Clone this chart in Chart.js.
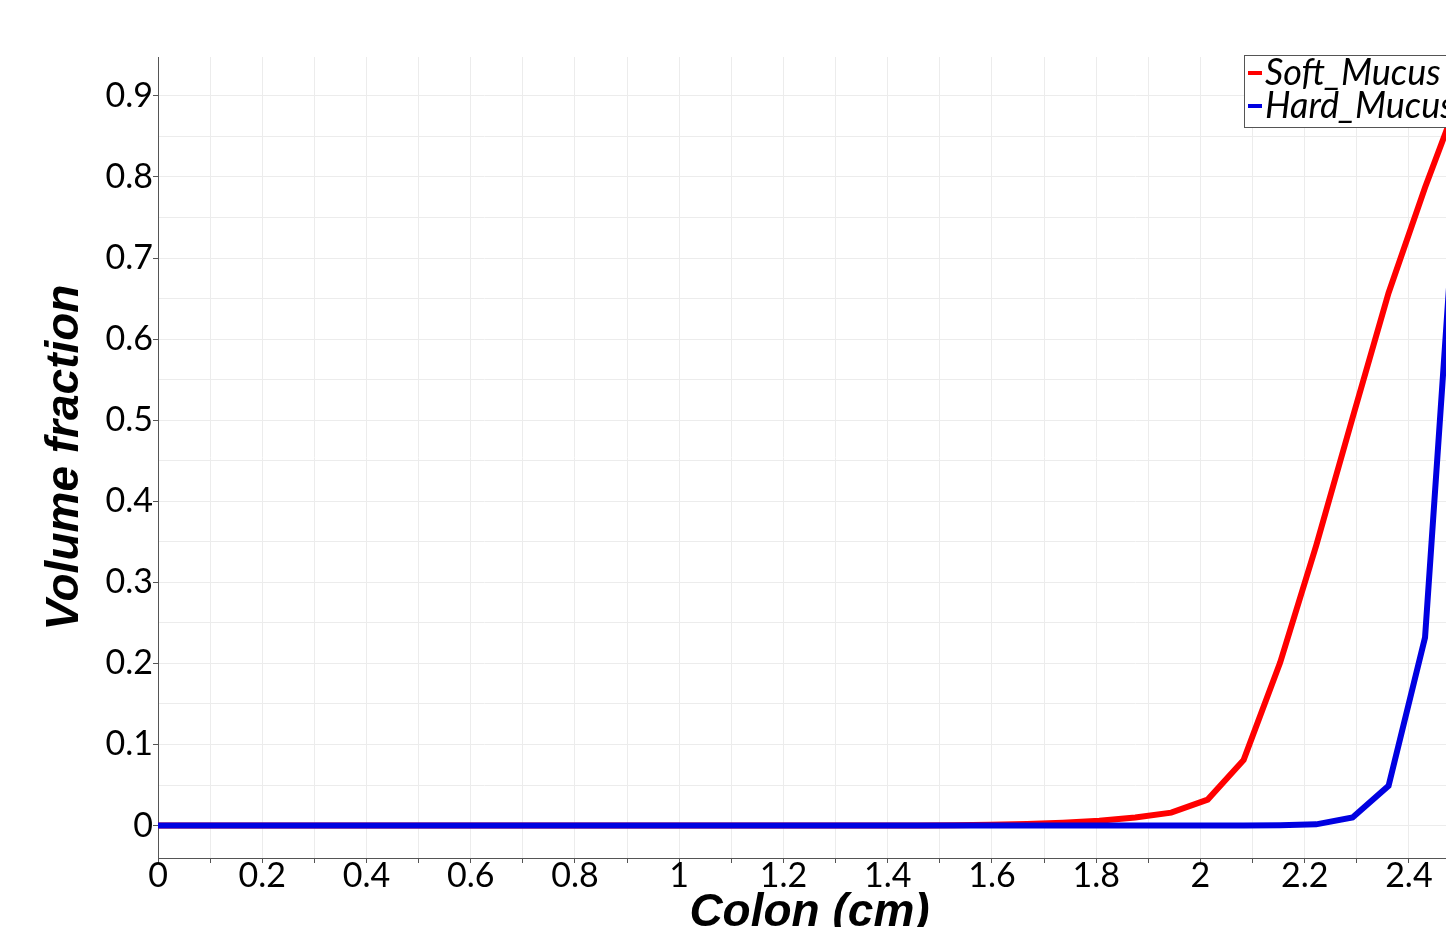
<!DOCTYPE html>
<html>
<head>
<meta charset="utf-8">
<script src="https://cdn.jsdelivr.net/npm/chart.js@4.4.0/dist/chart.umd.min.js"></script>
<style>
html, body { margin: 0; padding: 0; overflow: hidden; background: #fff; }
#wrap { position: absolute; left: 0; top: 0; width: 1480px; height: 960px; }
</style>
</head>
<body>
<div id="wrap"><canvas id="volumeChart" width="1480" height="960"></canvas></div>
<script>
// positions along the colon (cm)
var colonX = [0, 0.069, 0.139, 0.208, 0.278, 0.347, 0.417, 0.486, 0.556, 0.625,
              0.694, 0.764, 0.833, 0.903, 0.972, 1.042, 1.111, 1.181, 1.25, 1.319,
              1.389, 1.458, 1.528, 1.597, 1.667, 1.736, 1.806, 1.875, 1.944, 2.014,
              2.083, 2.153, 2.222, 2.292, 2.361, 2.431, 2.5];
var softMucus = [0, 0, 0, 0, 0, 0, 0, 0, 0, 0,
                 0, 0, 0, 0, 0, 0, 0, 0, 0, 0,
                 0, 0.0002, 0.0005, 0.001, 0.002, 0.0035, 0.006, 0.010, 0.016, 0.032,
                 0.081, 0.201, 0.345, 0.503, 0.657, 0.787, 0.905];
var hardMucus = [0, 0, 0, 0, 0, 0, 0, 0, 0, 0,
                 0, 0, 0, 0, 0, 0, 0, 0, 0, 0,
                 0, 0, 0, 0, 0, 0, 0, 0, 0, 0,
                 0, 0.0003, 0.0015, 0.010, 0.049, 0.232, 0.88];
var seriesNames = ['Soft_Mucus', 'Hard_Mucus'];
var xTickLabels = [0, 0.2, 0.4, 0.6, 0.8, 1, 1.2, 1.4, 1.6, 1.8, 2, 2.2, 2.4];
var yTickLabels = [0, 0.1, 0.2, 0.3, 0.4, 0.5, 0.6, 0.7, 0.8, 0.9];

function toPoints(ys) {
    return colonX.map(function(x, i) { return {x: x, y: ys[i]}; });
}
function isIn(list, v) {
    for (var i = 0; i < list.length; i++) {
        if (Math.abs(list[i] - v) < 1e-6) return true;
    }
    return false;
}
function pickLabel(list) {
    return function(v) { return isIn(list, v) ? String(Math.round(v * 10) / 10) : ''; };
}

// legend drawn in a box at the top right corner of the plot
var boxedLegend = {
    id: 'boxedLegend',
    afterDraw: function(chart) {
        var ctx = chart.ctx, area = chart.chartArea;
        var sets = chart.data.datasets;
        ctx.save();
        ctx.font = 'italic 400 36px Lato, "Liberation Sans", sans-serif';
        var textW = 0;
        sets.forEach(function(ds) { textW = Math.max(textW, ctx.measureText(ds.label).width); });
        var rowH = 33;
        var w = 4 + 14 + 3 + textW + 6, h = sets.length * rowH + 6;
        var left = Math.round(area.right - w), top = Math.round(area.top - 2);
        ctx.fillStyle = '#fff';
        ctx.fillRect(left, top, w, h);
        ctx.strokeStyle = '#555';
        ctx.lineWidth = 1;
        ctx.strokeRect(left + 0.5, top + 0.5, w, h);
        sets.forEach(function(ds, i) {
            var cy = top + 18 + i * rowH;
            ctx.fillStyle = ds.borderColor;
            ctx.fillRect(left + 4, cy - 2, 14, 4);
            ctx.fillStyle = '#000';
            ctx.textBaseline = 'middle';
            ctx.fillText(ds.label, left + 21, cy);
        });
        ctx.restore();
    }
};

var tickFont = {family: 'Lato, "Liberation Sans", sans-serif', size: 34, weight: '400'};
var titleFont = {family: '"Liberation Sans", Arial, sans-serif', size: 46, weight: 'bold', style: 'italic'};

var ctx = document.getElementById('volumeChart').getContext('2d');
var volumeChart = new Chart(ctx, {
    type: 'line',
    data: {
        datasets: [{
            label: seriesNames[0],
            data: toPoints(softMucus),
            borderColor: 'rgb(255, 0, 0)',
            borderWidth: 6,
            order: 1
        }, {
            label: seriesNames[1],
            data: toPoints(hardMucus),
            borderColor: 'rgb(0, 0, 225)',
            borderWidth: 6,
            order: 0
        }]
    },
    options: {
        responsive: false,
        animation: false,
        layout: {padding: {left: 0, top: 57, right: 19, bottom: 0}},
        elements: {
            point: {radius: 0},
            line: {tension: 0, borderCapStyle: 'butt', borderJoinStyle: 'miter'}
        },
        plugins: {
            legend: {display: false},
            tooltip: {enabled: false}
        },
        scales: {
            x: {
                type: 'linear',
                min: 0,
                max: 2.5,
                ticks: {
                    stepSize: 0.1,
                    autoSkip: false,
                    maxRotation: 0,
                    padding: -7,
                    color: '#000',
                    font: tickFont,
                    callback: pickLabel(xTickLabels)
                },
                grid: {color: '#ececec', lineWidth: 1, tickLength: 5, tickColor: '#555'},
                border: {color: '#555', width: 1},
                title: {display: true, text: 'Colon (cm)', color: '#000', font: titleFont, padding: {top: 0, bottom: 19}},
                afterFit: function(scale) { scale.height = 102; }
            },
            y: {
                type: 'linear',
                min: -0.04,
                max: 0.948,
                ticks: {
                    stepSize: 0.05,
                    includeBounds: false,
                    padding: 0,
                    color: '#000',
                    font: tickFont,
                    callback: pickLabel(yTickLabels)
                },
                grid: {
                    color: '#ececec',
                    lineWidth: 1,
                    tickLength: 5,
                    tickColor: function(c) { return c.tick && isIn(yTickLabels, c.tick.value) ? '#555' : 'rgba(0,0,0,0)'; }
                },
                border: {color: '#555', width: 1},
                title: {display: true, text: 'Volume fraction', color: '#000', font: titleFont, padding: {top: 38, bottom: 0}},
                afterFit: function(scale) { scale.width = 158; }
            }
        }
    },
    plugins: [boxedLegend]
});
</script>
</body>
</html>
